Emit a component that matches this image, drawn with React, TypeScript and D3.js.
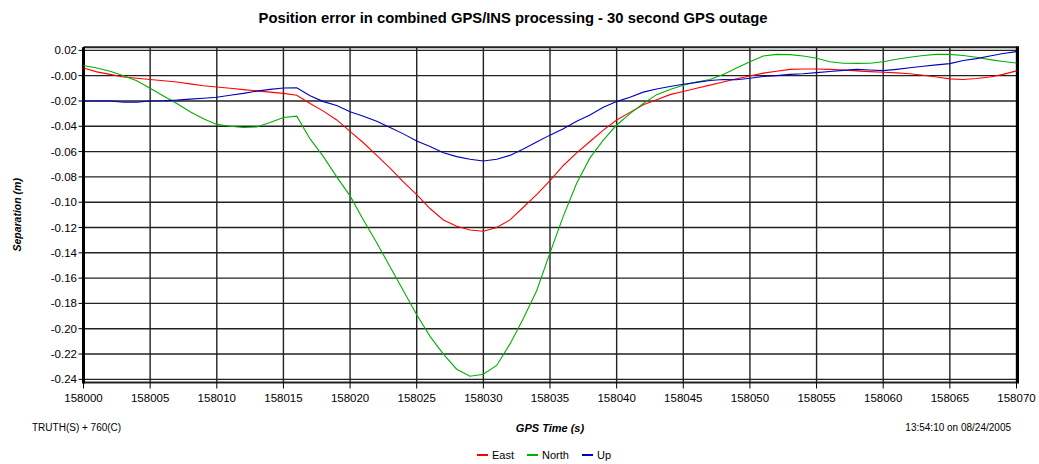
import React from "react";
import * as d3 from "d3";

const seconds: number[] = d3.range(0, 71);
const timeBase = 158000;

const eastValues: number[] = [
  0.006, 0.003, 0.001, -0.001, -0.002, -0.003, -0.004, -0.005, -0.0065, -0.008,
  -0.009, -0.01, -0.011, -0.012, -0.013, -0.014, -0.0155, -0.022, -0.028, -0.035,
  -0.044, -0.053, -0.063, -0.073, -0.084, -0.094, -0.105, -0.114, -0.119, -0.122,
  -0.123, -0.12, -0.114, -0.104, -0.094, -0.083, -0.071, -0.061, -0.052, -0.043,
  -0.035, -0.029, -0.023, -0.019, -0.015, -0.0125, -0.01, -0.0075, -0.005, -0.0025,
  -0.0003, 0.002, 0.0035, 0.005, 0.0053, 0.0053, 0.005, 0.0045, 0.0038, 0.0032,
  0.0027, 0.0022, 0.0015, 0.0003, -0.001, -0.0025, -0.003, -0.0022, -0.001, 0.001,
  0.0038,
];

const northValues: number[] = [
  0.008, 0.006, 0.0035, 0.0, -0.004, -0.01, -0.016, -0.022, -0.0285, -0.034,
  -0.0385, -0.04, -0.041, -0.0405, -0.037, -0.033, -0.032, -0.05, -0.064, -0.08,
  -0.095, -0.114, -0.132, -0.151, -0.17, -0.189, -0.206, -0.22, -0.232, -0.2375,
  -0.236, -0.229, -0.212, -0.192, -0.17, -0.14, -0.111, -0.085, -0.065, -0.051,
  -0.039, -0.03, -0.022, -0.015, -0.011, -0.0075, -0.005, -0.003, 0.001, 0.006,
  0.011, 0.0155, 0.0168, 0.0166, 0.0155, 0.0138, 0.011, 0.0098, 0.0097, 0.0098,
  0.011, 0.013, 0.0145, 0.016, 0.0168, 0.0168, 0.016, 0.0145, 0.0127, 0.0112,
  0.01,
];

const upValues: number[] = [
  -0.02, -0.02, -0.02, -0.021, -0.021, -0.02, -0.0198, -0.0193, -0.0185, -0.0178,
  -0.017, -0.0155, -0.014, -0.0122, -0.0108, -0.0097, -0.0095, -0.0158, -0.0205, -0.0235,
  -0.0285, -0.032, -0.036, -0.041, -0.046, -0.0516, -0.056, -0.061, -0.064, -0.066,
  -0.0674, -0.066, -0.063, -0.058, -0.0525, -0.047, -0.042, -0.036, -0.031, -0.025,
  -0.0205, -0.017, -0.013, -0.0105, -0.0085, -0.0068, -0.0053, -0.0038, -0.003, -0.0032,
  -0.002, -0.0006, 0.0, 0.001, 0.0015, 0.0024, 0.0033, 0.0042, 0.005, 0.0045,
  0.004, 0.005, 0.0062, 0.0075, 0.0085, 0.0095, 0.012, 0.0135, 0.0155, 0.0175,
  0.019,
];

const seriesNames = ["East", "North", "Up"];
const seriesColors = ["#ff0000", "#00b000", "#0000c0"];
const seriesData = [eastValues, northValues, upValues];

const xTicks: number[] = d3.range(158000, 158071, 5);
const yTicks: number[] = [0.02, 0, -0.02, -0.04, -0.06, -0.08, -0.1, -0.12, -0.14, -0.16, -0.18, -0.2, -0.22, -0.24];

const titleText = "Position error in combined GPS/INS processing - 30 second GPS outage";
const xTitle = "GPS Time (s)";
const yTitle = "Separation (m)";
const leftNote = "TRUTH(S) + 760(C)";
const rightNote = "13:54:10 on 08/24/2005";

export default function App() {
  const W = 1039;
  const H = 464;
  const x = d3.scaleLinear().domain([158000, 158070]).range([83.5, 1016.5]);
  const y = d3.scaleLinear().domain([-0.2425, 0.0225]).range([382.5, 47.2]);
  const font = "Arial, 'Liberation Sans', sans-serif";

  const fmtY = (v: number) => {
    const s = Math.abs(v).toFixed(2);
    return v > 0 ? s : "-" + s;
  };

  const line = (vals: number[]) =>
    d3
      .line<number>()
      .x((_, i) => x(timeBase + seconds[i]))
      .y((d) => y(d))(vals) || "";

  const [x0, x1] = x.range();
  const yTop = y(0.0225);
  const yBot = y(-0.2425);

  const legendX = [477, 527, 582];

  return (
    <svg
      width={W}
      height={H}
      style={{ position: "absolute", left: 0, top: 0, background: "#fff" }}
      fontFamily={font}
    >
      <rect x={0} y={0} width={W} height={H} fill="#fff" />
      <text x={513} y={23} textAnchor="middle" fontSize={14.8} fontWeight="bold">
        {titleText}
      </text>

      {/* grid */}
      {yTicks.map((t) => (
        <line key={"gy" + t} x1={x0} x2={x1} y1={y(t)} y2={y(t)} stroke="#222" strokeWidth={1.4} />
      ))}
      {xTicks.map((t) => (
        <line key={"gx" + t} x1={x(t)} x2={x(t)} y1={yTop} y2={yBot} stroke="#222" strokeWidth={1.4} />
      ))}
      {/* frame */}
      <line x1={x0} x2={x1} y1={yTop} y2={yTop} stroke="#222" strokeWidth={2} />
      <line x1={x0} x2={x1} y1={yBot} y2={yBot} stroke="#222" strokeWidth={2} />
      <line x1={x0} x2={x0} y1={yTop} y2={yBot + 1} stroke="#000" strokeWidth={3} />
      <line x1={x1 + 1} x2={x1 + 1} y1={yTop - 1} y2={yBot + 1} stroke="#000" strokeWidth={3} />

      {/* ticks */}
      {yTicks.map((t) => (
        <g key={"ty" + t}>
          <line x1={x0 - 5} x2={x0} y1={y(t)} y2={y(t)} stroke="#000" strokeWidth={1} />
          <text x={77} y={y(t) + 4} textAnchor="end" fontSize={11.5}>
            {fmtY(t)}
          </text>
        </g>
      ))}
      {xTicks.map((t) => (
        <g key={"tx" + t}>
          <line x1={x(t)} x2={x(t)} y1={yBot} y2={yBot + 6} stroke="#000" strokeWidth={1} />
          <text x={x(t)} y={402} textAnchor="middle" fontSize={11.5}>
            {String(t)}
          </text>
        </g>
      ))}

      {/* series */}
      {seriesData.map((vals, i) => (
        <path key={seriesNames[i]} d={line(vals)} fill="none" stroke={seriesColors[i]} strokeWidth={1.1} />
      ))}

      {/* axis titles */}
      <text x={550} y={432} textAnchor="middle" fontSize={11} fontWeight="bold" fontStyle="italic">
        {xTitle}
      </text>
      <text
        transform={`translate(21,${(yTop + yBot) / 2}) rotate(-90)`}
        textAnchor="middle"
        fontSize={10.5}
        fontWeight="bold"
        fontStyle="italic"
      >
        {yTitle}
      </text>

      <text x={32} y={431} fontSize={10}>
        {leftNote}
      </text>
      <text x={1011} y={431} textAnchor="end" fontSize={10}>
        {rightNote}
      </text>

      {/* legend */}
      {seriesNames.map((n, i) => (
        <g key={"lg" + n}>
          <line x1={legendX[i]} x2={legendX[i] + 11} y1={455} y2={455} stroke={seriesColors[i]} strokeWidth={2} />
          <text x={legendX[i] + 15} y={459} fontSize={11}>
            {n}
          </text>
        </g>
      ))}
    </svg>
  );
}
